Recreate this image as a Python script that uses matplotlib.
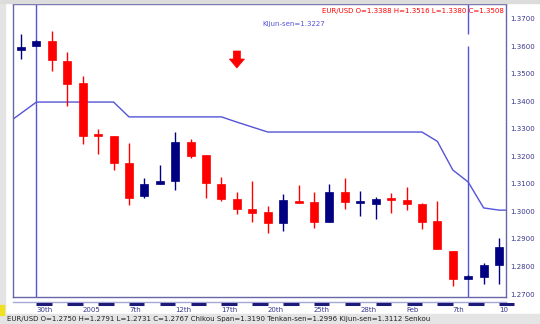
import matplotlib
matplotlib.use("Agg")
import matplotlib.pyplot as plt
from matplotlib.patches import Rectangle, Polygon
from matplotlib.transforms import blended_transform_factory

# daily EUR/USD candles, 30 Dec 2004 .. 10 Feb 2005 (one entry per candle, left to right)
opens = [1.3587, 1.3602, 1.3620, 1.3547, 1.3467, 1.3278, 1.3274, 1.3176,
         1.3056, 1.3100, 1.3111, 1.3253, 1.3205, 1.3100, 1.3045, 1.3009,
         1.2998, 1.2958, 1.3035, 1.3035, 1.2962, 1.3071, 1.3031, 1.3027,
         1.3045, 1.3042, 1.3027, 1.2965, 1.2856, 1.2755, 1.2762, 1.2805]
highs = [1.3645, 1.3622, 1.3656, 1.3580, 1.3493, 1.3300, 1.3276, 1.3249,
         1.3122, 1.3169, 1.3289, 1.3264, 1.3207, 1.3125, 1.3071, 1.3111,
         1.3020, 1.3064, 1.3096, 1.3071, 1.3100, 1.3122, 1.3075, 1.3053,
         1.3067, 1.3089, 1.3031, 1.3038, 1.2858, 1.2769, 1.2813, 1.2904]
lows = [1.3555, 1.3600, 1.3511, 1.3384, 1.3245, 1.3209, 1.3151, 1.3024,
        1.3049, 1.3100, 1.3078, 1.3195, 1.3049, 1.3038, 1.2991, 1.2962,
        1.2922, 1.2929, 1.3031, 1.2940, 1.2962, 1.3009, 1.2984, 1.2973,
        1.2995, 1.3005, 1.2936, 1.2864, 1.2729, 1.2755, 1.2736, 1.2736]
closes = [1.3598, 1.3620, 1.3551, 1.3464, 1.3275, 1.3273, 1.3176, 1.3049,
          1.3100, 1.3111, 1.3253, 1.3202, 1.3104, 1.3045, 1.3009, 1.2995,
          1.2958, 1.3042, 1.3031, 1.2962, 1.3071, 1.3035, 1.3035, 1.3045,
          1.3042, 1.3027, 1.2962, 1.2864, 1.2755, 1.2765, 1.2805, 1.2871]

# Kijun-sen, candle -1 .. 32 (it runs off both edges of the view)
kijun_x = list(range(-1, 33))
kijun = [1.3316, 1.3357, 1.3398, 1.3398, 1.3398, 1.3398, 1.3398, 1.3398,
         1.3344, 1.3344, 1.3344, 1.3344, 1.3344, 1.3344, 1.3344, 1.3325,
         1.3307, 1.3289, 1.3289, 1.3289, 1.3289, 1.3289, 1.3289, 1.3289,
         1.3289, 1.3289, 1.3289, 1.3289, 1.3255, 1.3151, 1.3107, 1.3013,
         1.3005, 1.3005]

date_labels = ["30th", "2005", "7th", "12th", "17th", "20th", "25th", "28th",
               "Feb", "7th", "10"]
label_idx = [1, 4, 7, 10, 13, 16, 19, 22, 25, 28, 31]
price_ticks = [1.27, 1.28, 1.29, 1.30, 1.31, 1.32, 1.33, 1.34, 1.35, 1.36, 1.37]

W, H = 540, 324
UP = "#000080"
DOWN = "#ff0000"
LINE = "#5454d8"
TXT = "#38388a"
FRAME = "#6666a8"


def fy(py):
    return 1 - py / H


fig = plt.figure(figsize=(W / 100, H / 100), dpi=100)
fig.patch.set_facecolor("white")

# window chrome
fig.patches.append(Rectangle((0, 0), 1, fy(314), transform=fig.transFigure,
                             color="#e4e4e4", zorder=0))
fig.patches.append(Rectangle((0, 0), 5 / W, 1, transform=fig.transFigure,
                             color="#e4e4e4", zorder=0))
fig.patches.append(Rectangle((0, fy(3)), 1, 3 / H, transform=fig.transFigure,
                             color="#dcdcdc", zorder=0))
fig.patches.append(Rectangle((0, fy(315)), 4 / W, 10 / H, transform=fig.transFigure,
                             color="#f0e020", zorder=1))
# status line at the bottom of the window
fig.text(7 / W, fy(321.5), "EUR/USD O=1.2750 H=1.2791 L=1.2731 C=1.2767 Chikou Span=1.3190 "
         "Tenkan-sen=1.2996 Kijun-sen=1.3112 Senkou",
         fontsize=5, color="#202020", va="baseline", ha="left")

ax = fig.add_axes([13 / W, fy(297), 493 / W, 293 / H])
ax.set_xlim(-0.52, 31.45)
ax.set_ylim(1.26891, 1.37545)
for s in ax.spines.values():
    s.set_color(FRAME)
    s.set_linewidth(1)

# kijun-sen line and cursor lines
ax.plot(kijun_x, kijun, color=LINE, lw=1, zorder=1)
ax.axvline(1, color=LINE, lw=1, zorder=1)
ax.vlines(29, 1.3645, 1.37545, color=LINE, lw=1, zorder=1)
ax.vlines(29, 1.26891, 1.3601, color=LINE, lw=1, zorder=1)

# candles
bw = 0.52
for i in range(len(opens)):
    o, h, l, c = opens[i], highs[i], lows[i], closes[i]
    col = UP if c >= o else DOWN
    ax.vlines(i, l, h, color=col, lw=1, zorder=2)
    lo = min(o, c)
    ht = max(abs(c - o), 0.0008)
    ax.add_patch(Rectangle((i - bw / 2, lo), bw, ht, facecolor=col,
                           edgecolor=col, lw=0.5, zorder=3))

# sell arrow
ax_x, ay_top, ay_neck, ay_tip = 14, 1.35836, 1.35545, 1.35218
ax.add_patch(Polygon([(ax_x - 0.23, ay_top), (ax_x + 0.23, ay_top),
                      (ax_x + 0.23, ay_neck), (ax_x + 0.49, ay_neck),
                      (ax_x, ay_tip), (ax_x - 0.49, ay_neck),
                      (ax_x - 0.23, ay_neck)], closed=True,
                     facecolor=DOWN, edgecolor=DOWN, lw=0.5, zorder=4))

ax.text(0.996, 0.976, "EUR/USD O=1.3388 H=1.3516 L=1.3380 C=1.3508",
        transform=ax.transAxes, ha="right", va="center", fontsize=5, color=DOWN)
ax.text(15.63, 1.3682, "Kijun-sen=1.3227", ha="left", va="center",
        fontsize=5, color=LINE)

# price axis on the right
ax.yaxis.tick_right()
ax.set_yticks(price_ticks)
ax.set_yticklabels(["%.4f" % p for p in price_ticks])
ax.tick_params(axis="y", length=0, pad=3, labelsize=5, labelcolor=TXT)
ax.set_xticks([])

# date strip under the chart
tr = blended_transform_factory(ax.transData, fig.transFigure)
ax.plot([-0.52, 31.45], [fy(302), fy(302)], transform=tr, color="#a8a8d8",
        lw=1, clip_on=False)
for i in range(1, 32, 2):
    ax.plot([i, i + 1], [fy(303.5), fy(303.5)], transform=tr, color="#1c1c78",
            lw=2.2, solid_capstyle="butt", clip_on=False)
for idx, lab in zip(label_idx, date_labels):
    ax.text(idx, fy(309.5), lab, transform=tr, ha="left", va="center",
            fontsize=5, color=TXT, clip_on=False)

fig.savefig("out.png", dpi=100)
